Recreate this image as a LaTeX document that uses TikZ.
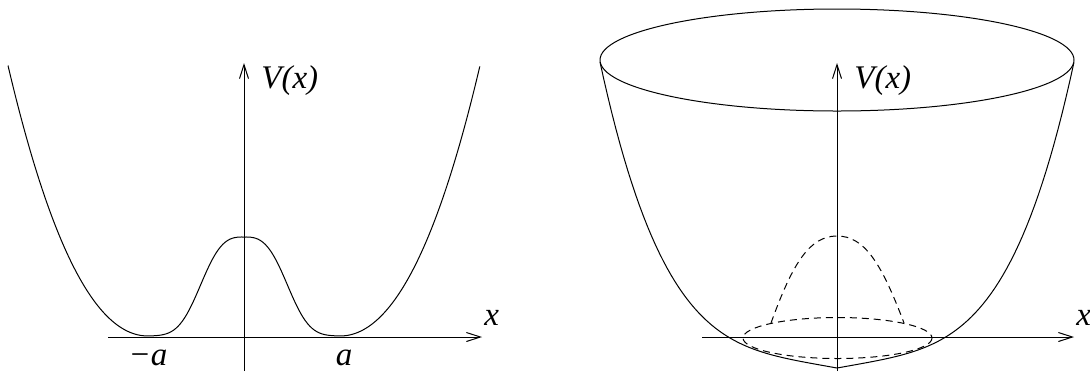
\documentclass[tikz,border=0pt]{standalone}
\usepackage{fontspec}
\setmainfont{Liberation Serif}
\usetikzlibrary{arrows.meta}

\begin{document}
\begin{tikzpicture}[
    x=0.5pt, y=-0.5pt,
    axis/.style={-{Straight Barb[length=7pt,width=4.5pt]}, line width=0.5pt},
    curve/.style={line width=0.5pt},
    hidden/.style={line width=0.5pt, dash pattern=on 3.5pt off 2.5pt},
    lbl/.style={font=\fontsize{16.5}{19}\selectfont\itshape, inner sep=0pt}
]
    \useasboundingbox (0,0) rectangle (1090,371);

    % left: double well
    \coordinate (lxa) at (108,337);
    \coordinate (lxb) at (482,337);
    \coordinate (lya) at (244,371);
    \coordinate (lyb) at (244,63);
    \draw[axis] (lxa) -- (lxb);
    \draw[axis] (lya) -- (lyb);
    \draw[curve] plot[domain=-2.36:2.36, samples=201, smooth]
        ({244+100*\x}, {336
          - 99*exp(-(abs(\x)/0.498)*(abs(\x)/0.498)*(abs(\x)/0.498))
          - max(abs(\x)-0.96,0)*max(abs(\x)-0.96,0)*(110+20*max(abs(\x)-0.96,0))});
    \node[lbl, anchor=base west] (vl) at (261,88) {V(x)};
    \node[lbl, anchor=base west] (xl) at (484,325) {x};
    \node[lbl, anchor=base] (ma) at (148,365) {−a};
    \node[lbl, anchor=base] (pa) at (344,365) {a};

    % right: bowl with the bump inside
    \coordinate (rxa) at (702,337);
    \coordinate (rxb) at (1074,337);
    \coordinate (rya) at (837,371);
    \coordinate (ryb) at (837,63);
    \draw[curve] (837,60) ellipse [x radius=237, y radius=51];
    \draw[curve] plot[domain=-2.37:2.37, samples=121]
        ({837+100*\x}, {368-17.8*abs(\x)-8.36*(\x*\x)*(\x*\x)});
    \draw[hidden] (837.5,338) ellipse [x radius=94.5, y radius=20.5];
    \draw[hidden] (771,323) .. controls (793,262) and (810,236) .. (837,236)
        .. controls (864,236) and (881,262) .. (904,323);
    \draw[axis] (rxa) -- (rxb);
    \draw[axis] (rya) -- (ryb);
    \node[lbl, anchor=base west] (vr) at (854,88) {V(x)};
    \node[lbl, anchor=base west] (xr) at (1076,325) {x};
\end{tikzpicture}
\end{document}
